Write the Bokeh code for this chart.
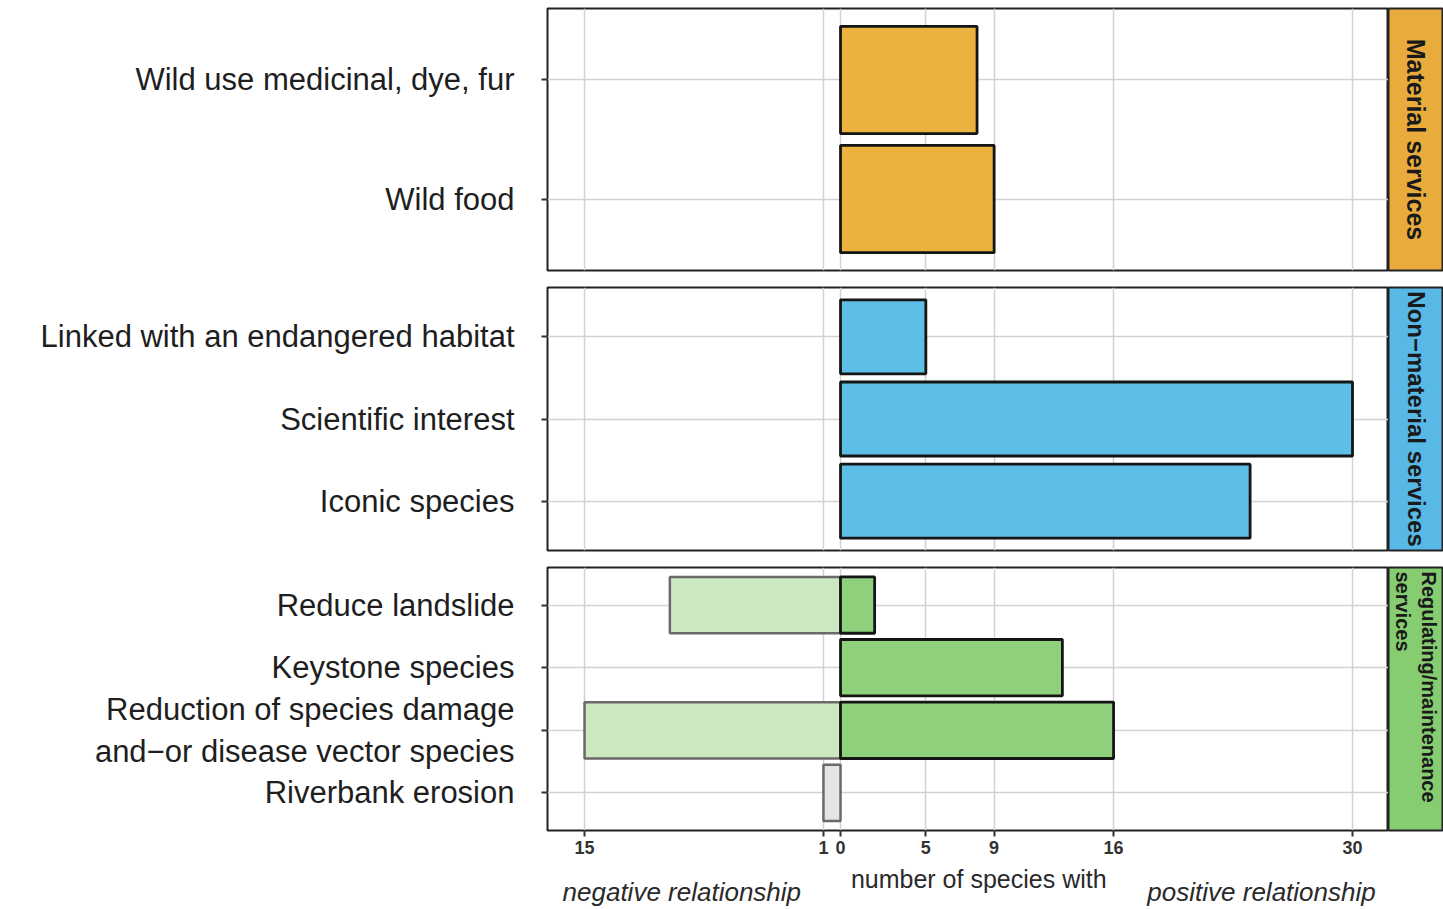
import math
from bokeh.plotting import figure
from bokeh.models import FactorRange, Range1d, FixedTicker, LinearAxis, Label, Grid
from bokeh.layouts import row, column
from bokeh.embed import file_html
from bokeh.resources import INLINE

# ---------------- data ----------------
material_cats = ["Wild use medicinal, dye, fur", "Wild food"]
material_pos = [8, 9]
material_neg = [0, 0]

nonmat_cats = ["Linked with an endangered habitat", "Scientific interest", "Iconic species"]
nonmat_pos = [5, 30, 24]
nonmat_neg = [0, 0, 0]

regul_cats = ["Reduce landslide", "Keystone species",
              "Reduction of species damage\nand\u2212or disease vector species",
              "Riverbank erosion"]
regul_pos = [2, 13, 16, 0]
regul_neg = [10, 0, 15, 1]

strip_labels = ["Material services", "Non\u2212material services",
                "Regulating/maintenance\nservices"]

x_ticks = [-15, -1, 0, 5, 9, 16, 30]
x_tick_labels = ["15", "1", "0", "5", "9", "16", "30"]

# ---------------- style ----------------
FONT = "Liberation Sans"
GRID = "#D2D2D2"
TXT = "#1e1e1e"
LEFT = 547      # left border of the panels
MAIN_W = 1388   # width of each panel figure (frame 841 px)
STRIP_W = 55

xr = Range1d(-17.17, 32.11)


def make_panel(cats, pos, neg, fill, neg_fills, h, top, bottom, with_axis):
    yr = FactorRange(*reversed(cats), range_padding=0.1, range_padding_units="absolute")
    p = figure(width=MAIN_W, height=h, x_range=xr, y_range=yr, x_axis_location=None,
               toolbar_location=None, output_backend="svg",
               min_border_left=LEFT, min_border_right=0,
               min_border_top=top, min_border_bottom=bottom)
    p.xgrid.visible = False
    p.add_layout(Grid(dimension=0, ticker=FixedTicker(ticks=x_ticks),
                      grid_line_color=GRID, grid_line_width=1.5))
    p.ygrid.grid_line_color = GRID
    p.ygrid.grid_line_width = 1.5
    p.outline_line_color = "#222222"
    p.outline_line_width = 2
    p.background_fill_color = "white"

    ax = p.yaxis[0]
    ax.axis_line_color = None
    ax.major_tick_out = 6
    ax.major_tick_in = 0
    ax.major_tick_line_color = "#333333"
    ax.major_tick_line_width = 2
    ax.major_label_text_font = FONT
    ax.major_label_text_font_size = "31px"
    ax.major_label_text_color = TXT
    ax.major_label_standoff = 27

    ny = [c for c, v in zip(cats, neg) if v > 0]
    nv = [-v for v in neg if v > 0]
    nf = [f for f, v in zip(neg_fills, neg) if v > 0]
    if ny:
        p.hbar(y=ny, left=nv, right=0, height=0.9, fill_color=nf,
               line_color="#6a6a6a", line_width=2.5)
    py = [c for c, v in zip(cats, pos) if v > 0]
    pv = [v for v in pos if v > 0]
    p.hbar(y=py, left=0, right=pv, height=0.9, fill_color=fill,
           line_color="#151515", line_width=2.8)

    if with_axis:
        xa = LinearAxis(ticker=FixedTicker(ticks=x_ticks),
                        major_label_overrides=dict(zip(x_ticks, x_tick_labels)))
        xa.axis_line_color = None
        xa.major_tick_out = 6
        xa.major_tick_in = 0
        xa.major_tick_line_color = "#333333"
        xa.major_tick_line_width = 2
        xa.minor_tick_line_color = None
        xa.major_label_text_font = FONT
        xa.major_label_text_font_size = "18px"
        xa.major_label_text_font_style = "bold"
        xa.major_label_text_color = "#333333"
        xa.major_label_standoff = 4
        p.add_layout(xa, "below")
    return p


def make_strip(label, color, h, top, bottom, size, top_anchor=False):
    s = figure(width=STRIP_W, height=h, x_range=Range1d(0, 1), y_range=Range1d(0, 1),
               x_axis_location=None, y_axis_location=None,
               toolbar_location=None, output_backend="svg",
               min_border_left=0, min_border_right=0,
               min_border_top=top, min_border_bottom=bottom)
    s.grid.visible = False
    s.background_fill_color = color
    s.outline_line_color = "#222222"
    s.outline_line_width = 2
    if top_anchor:
        lab = Label(x=0.5, y=0.985, text=label, angle=-math.pi / 2,
                    text_align="left", text_baseline="middle")
    else:
        lab = Label(x=0.5, y=0.5, text=label, angle=-math.pi / 2,
                    text_align="center", text_baseline="middle")
    lab.text_font = FONT
    lab.text_font_style = "bold"
    lab.text_font_size = size
    lab.text_color = "#1a1a1a"
    lab.text_line_height = 1.2
    s.add_layout(lab)
    return s


p1 = make_panel(material_cats, material_pos, material_neg, "#EBB23F",
                ["#F5D9A0"] * 2, 279, 8, 9, False)
p2 = make_panel(nonmat_cats, nonmat_pos, nonmat_neg, "#5DBFE6",
                ["#BFE3F3"] * 3, 280, 8, 9, False)
p3 = make_panel(regul_cats, regul_pos, regul_neg, "#8ED07C",
                ["#CBE8C1", "#CBE8C1", "#CBE8C1", "#E3E7E1"], 303, 8, 32, True)

s1 = make_strip(strip_labels[0], "#E9AC3C", 279, 8, 9, "25px")
s2 = make_strip(strip_labels[1], "#58B8E6", 280, 8, 9, "24px")
s3 = make_strip(strip_labels[2], "#86CC70", 303, 8, 32, "20px", top_anchor=True)

foot = figure(width=MAIN_W, height=46, x_range=xr, y_range=Range1d(0, 1),
              x_axis_location=None, y_axis_location=None,
              toolbar_location=None, output_backend="svg",
              min_border_left=LEFT, min_border_right=0,
              min_border_top=0, min_border_bottom=0)
foot.grid.visible = False
foot.outline_line_color = None
for txt, xx, yy, style, size in [("number of species with", 8.1, 0.65, "normal", "25px"),
                                 ("negative relationship", -9.3, 0.36, "italic", "26px"),
                                 ("positive relationship", 24.67, 0.36, "italic", "26px")]:
    foot.add_layout(Label(x=xx, y=yy, text=txt, text_align="center",
                          text_baseline="middle", text_font=FONT,
                          text_font_size=size, text_font_style=style,
                          text_color="#2a2a2a"))

layout = column(row(p1, s1), row(p2, s2), row(p3, s3), foot)

open("out.html", "w").write(file_html(layout, INLINE))
